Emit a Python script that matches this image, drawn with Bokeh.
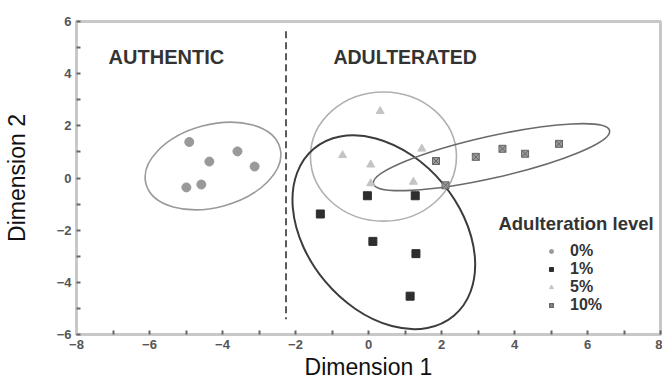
import numpy as np
from bokeh.plotting import figure
from bokeh.models import FixedTicker, Label, Legend, LegendItem, ColumnDataSource
from bokeh.embed import file_html
from bokeh.resources import INLINE

# ---- data ----
x0 = [-4.91, -4.36, -3.59, -3.12, -4.99, -4.58]
y0 = [1.38, 0.63, 1.02, 0.44, -0.36, -0.25]
x1 = [-0.03, 1.28, -1.32, 0.12, 1.30, 1.14]
y1 = [-0.68, -0.68, -1.38, -2.43, -2.90, -4.53]
x5 = [0.32, -0.71, 0.06, 1.46, 1.23, 0.06]
y5 = [2.56, 0.87, 0.51, 1.12, -0.15, -0.21]
x10 = [1.85, 2.94, 3.67, 4.29, 5.22, 2.11]
y10 = [0.65, 0.81, 1.12, 0.93, 1.31, -0.28]

# confidence ellipses: centre x, centre y, width, height, angle (deg)
ell_x = [-4.26, 0.41, 0.42, 3.37]
ell_y = [0.46, 0.82, -2.08, 0.80]
ell_w = [3.80, 4.00, 5.97, 6.63]
ell_h = [3.17, 4.95, 5.87, 1.60]
ell_a = [15, 0, -50, 12.7]
ell_color = ["#9a9a9a", "#b0b0b0", "#3c3c3c", "#6a6a6a"]
ell_lw = [1.6, 1.6, 2.0, 1.6]

boundary_x = -2.26
boundary_y = [5.63, -5.42]

x_ticks = [-8, -6, -4, -2, 0, 2, 4, 6, 8]
x_minor = [-7, -5, -3, -1, 1, 3, 5, 7]
y_ticks = [-6, -4, -2, 0, 2, 4, 6]
y_minor = [-5, -3, -1, 1, 3, 5]
levels = ["0%", "1%", "5%", "10%"]

p = figure(frame_width=584, frame_height=313,
           min_border_left=75, min_border_right=2, min_border_top=21, min_border_bottom=50,
           x_range=(-8, 8), y_range=(-6, 6),
           output_backend="svg", toolbar_location=None)
p.xgrid.visible = False
p.ygrid.visible = False
p.outline_line_color = "#c8c8c8"
p.outline_line_width = 3
p.background_fill_color = "white"
p.border_fill_color = "white"

p.xaxis.ticker = FixedTicker(ticks=x_ticks, minor_ticks=x_minor)
p.yaxis.ticker = FixedTicker(ticks=y_ticks, minor_ticks=y_minor)
for ax in (p.xaxis, p.yaxis):
    ax.axis_line_color = "#c8c8c8"
    ax.axis_line_width = 3
    ax.major_tick_in = 4
    ax.major_tick_out = 0
    ax.minor_tick_in = 4
    ax.minor_tick_out = 0
    ax.major_tick_line_color = "#666666"
    ax.minor_tick_line_color = "#666666"
    ax.major_tick_line_width = 2
    ax.minor_tick_line_width = 2
    ax.major_label_text_font = "Liberation Sans"
    ax.major_label_text_font_size = "13px"
    ax.major_label_text_font_style = "bold"
    ax.major_label_text_color = "#555555"
    ax.axis_label_text_font = "Liberation Sans"
    ax.axis_label_text_font_size = "23px"
    ax.axis_label_text_font_style = "normal"
    ax.axis_label_text_color = "#111111"
p.xaxis.axis_label = "Dimension 1"
p.yaxis.axis_label = "Dimension 2"
p.xaxis.major_label_standoff = 5
p.xaxis.axis_label_standoff = 2
p.yaxis.major_label_standoff = 5
p.yaxis.axis_label_standoff = 24

# ellipses
esrc = ColumnDataSource(dict(x=ell_x, y=ell_y, w=ell_w, h=ell_h,
                             a=[np.deg2rad(v) for v in ell_a], c=ell_color, lw=ell_lw))
p.ellipse(x="x", y="y", width="w", height="h", angle="a", source=esrc,
          fill_alpha=0, line_color="c", line_width="lw")

# boundary
p.line([boundary_x, boundary_x], boundary_y, line_color="#333333", line_width=1.6,
       line_dash="7 4")

r0 = p.scatter(x0, y0, marker="circle", size=9, fill_color="#999999", line_color="#999999")
r1 = p.scatter(x1, y1, marker="square", size=8, fill_color="#2e2e2e", line_color="#2e2e2e")
r5 = p.scatter(x5, y5, marker="triangle", size=8, fill_color="#c4c4c4", line_color="#c4c4c4")
r10 = p.scatter(x10, y10, marker="square_x", size=7, fill_color="#9a9a9a", line_color="#666666")

legend = Legend(items=[LegendItem(label=levels[i], renderers=[r]) for i, r in enumerate([r0, r1, r5, r10])],
                location=(470, 20), orientation="vertical",
                label_text_font="Liberation Sans", label_text_font_size="16px",
                label_text_font_style="bold", label_text_color="#333333",
                glyph_width=10, glyph_height=10, label_standoff=14, label_height=17,
                spacing=0, padding=0, margin=0,
                border_line_color=None, background_fill_alpha=0)
p.add_layout(legend, "center")

p.add_layout(Label(x=3.56, y=-1.73, text="Adulteration level", text_font="Liberation Sans",
                   text_font_size="18.5px", text_font_style="bold", text_color="#333333",
                   text_baseline="middle"))
p.add_layout(Label(x=-7.12, y=4.63, text="AUTHENTIC", text_font="Liberation Sans",
                   text_font_size="20px", text_font_style="bold", text_color="#333333",
                   text_baseline="middle"))
p.add_layout(Label(x=-0.96, y=4.63, text="ADULTERATED", text_font="Liberation Sans",
                   text_font_size="19.5px", text_font_style="bold", text_color="#333333",
                   text_baseline="middle"))

open("out.html", "w").write(file_html(p, INLINE))
